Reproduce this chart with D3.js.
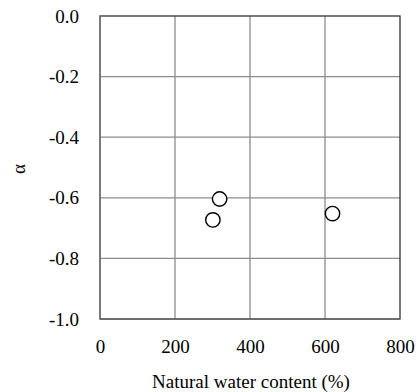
<!DOCTYPE html>
<html>
<head>
<meta charset="utf-8">
<script src="https://cdn.jsdelivr.net/npm/d3@7"></script>
<style>
  body { margin: 0; background: #fff; }
  svg text { font-family: "Liberation Serif", "Times New Roman", serif; fill: #000; }
</style>
</head>
<body>
<div id="chart"></div>
<script>
// ── Data ─────────────────────────────────────
const waterContent = [319, 301, 620];
const alphaValues  = [-0.604, -0.673, -0.652];
const xTicks = [0, 200, 400, 600, 800];
const yTicks = [0, -0.2, -0.4, -0.6, -0.8, -1.0];

const W = 419, H = 392;
const margin = { top: 16, right: 19, bottom: 73, left: 100 };
const innerW = W - margin.left - margin.right;
const innerH = H - margin.top - margin.bottom;
const fontSize = 19;
const serif = "'Liberation Serif', 'Times New Roman', serif";

const svg = d3.select("#chart").append("svg")
  .attr("width", W).attr("height", H);

const x = d3.scaleLinear().domain([0, 800]).range([0, innerW]);
const y = d3.scaleLinear().domain([-1, 0]).range([innerH, 0]);

const g = svg.append("g").attr("transform", `translate(${margin.left},${margin.top})`);

// ── Grid ─────────────────────────────────────
g.selectAll(".gx").data(xTicks.slice(1, -1)).join("line")
  .attr("x1", d => x(d)).attr("x2", d => x(d))
  .attr("y1", 0).attr("y2", innerH)
  .attr("stroke", "#8c8c8c").attr("stroke-width", 1.3);

g.selectAll(".gy").data(yTicks.slice(1, -1)).join("line")
  .attr("x1", 0).attr("x2", innerW)
  .attr("y1", d => y(d)).attr("y2", d => y(d))
  .attr("stroke", "#8c8c8c").attr("stroke-width", 1.3);

// ── Frame ────────────────────────────────────
g.append("rect")
  .attr("x", 0).attr("y", 0)
  .attr("width", innerW).attr("height", innerH)
  .attr("fill", "none")
  .attr("stroke", "#333").attr("stroke-width", 1.3);

// axis lines on left / bottom (gray, like the source)
g.append("line")
  .attr("x1", 0).attr("x2", 0).attr("y1", 0).attr("y2", innerH)
  .attr("stroke", "#7a7a7a").attr("stroke-width", 1.5);
g.append("line")
  .attr("x1", 0).attr("x2", innerW).attr("y1", innerH).attr("y2", innerH)
  .attr("stroke", "#6a6a6a").attr("stroke-width", 1.5);

// ── Axes (labels only) ───────────────────────
const xAxis = g.append("g")
  .attr("transform", `translate(0,${innerH})`)
  .call(d3.axisBottom(x).tickValues(xTicks).tickSize(0).tickPadding(21).tickFormat(d => d.toFixed(0)));
xAxis.select(".domain").remove();
xAxis.selectAll("text")
  .style("font-family", serif).style("font-size", fontSize + "px").attr("fill", "#000");

const yAxis = g.append("g")
  .call(d3.axisLeft(y).tickValues(yTicks).tickSize(0).tickPadding(21).tickFormat(d => d.toFixed(1)));
yAxis.select(".domain").remove();
yAxis.selectAll("text")
  .style("font-family", serif).style("font-size", fontSize + "px").attr("fill", "#000");

// ── Points ───────────────────────────────────
g.selectAll(".pt").data(waterContent.map((d, i) => [d, alphaValues[i]])).join("circle")
  .attr("cx", d => x(d[0])).attr("cy", d => y(d[1]))
  .attr("r", 7.2)
  .attr("fill", "#fff")
  .attr("stroke", "#000").attr("stroke-width", 1.4);

// ── Titles ───────────────────────────────────
svg.append("text")
  .attr("x", 251).attr("y", 388)
  .attr("text-anchor", "middle")
  .style("font-family", serif).style("font-size", fontSize + "px")
  .text("Natural water content (%)");

svg.append("text")
  .attr("transform", `translate(25,169) rotate(-90)`)
  .attr("text-anchor", "middle")
  .style("font-family", serif).style("font-size", fontSize + "px")
  .text("α");
</script>
</body>
</html>
